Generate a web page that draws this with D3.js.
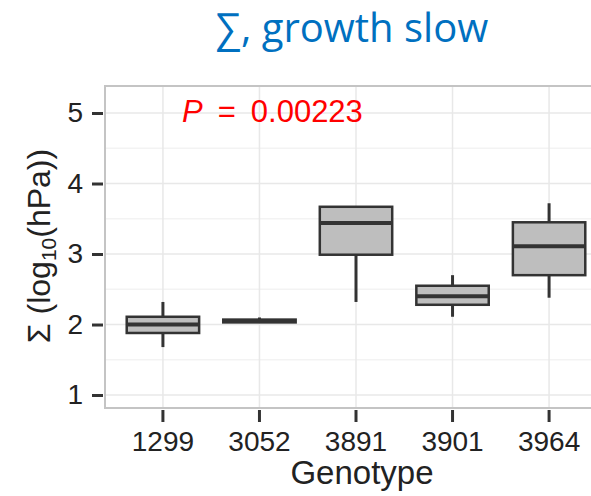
<!DOCTYPE html>
<html>
<head>
<meta charset="utf-8">
<script src="https://cdn.jsdelivr.net/npm/d3@7.9.0/dist/d3.min.js"></script>
<style>
  body { margin: 0; background: #fff; }
  svg { display: block; }
</style>
</head>
<body>
<svg id="chart" width="591" height="496"></svg>
<script>
// genotype categories and box stats
const genotypes = ["1299", "3052", "3891", "3901", "3964"];
const whiskerLow = [1.68, 2.03, 2.32, 2.11, 2.38];
const q1 = [1.88, 2.03, 2.99, 2.28, 2.70];
const median = [2.00, 2.05, 3.44, 2.40, 3.11];
const q3 = [2.11, 2.07, 3.67, 2.55, 3.45];
const whiskerHigh = [2.32, 2.10, 3.67, 2.70, 3.72];
const yTicks = [1, 2, 3, 4, 5];
const yMinor = [1.5, 2.5, 3.5, 4.5];

const svg = d3.select("#chart");

// panel runs off the right edge in the original (cropped)
const panel = { left: 105, top: 86, right: 607, bottom: 408 };

const x = d3.scaleBand()
  .domain(genotypes)
  .range([panel.left, panel.right])
  .paddingInner(0)
  .paddingOuter(0.1);

const y = d3.scaleLinear()
  .domain([0.816, 5.383])
  .range([panel.bottom, panel.top]);

const boxW = x.step() * 0.75;
const cx = (g) => x(g) + x.bandwidth() / 2;

// title
svg.append("text")
  .attr("x", 352)
  .attr("y", 42)
  .attr("text-anchor", "middle")
  .attr("font-family", "'Open Sans', sans-serif")
  .attr("font-size", 40)
  .attr("fill", "#0070C0")
  .text("∑, growth slow");

// grid
const grid = svg.append("g");
grid.selectAll("line.minor")
  .data(yMinor)
  .join("line")
  .attr("x1", panel.left).attr("x2", panel.right)
  .attr("y1", (d) => y(d)).attr("y2", (d) => y(d))
  .attr("stroke", "#f3f3f3").attr("stroke-width", 1.5);
grid.selectAll("line.major")
  .data(yTicks)
  .join("line")
  .attr("x1", panel.left).attr("x2", panel.right)
  .attr("y1", (d) => y(d)).attr("y2", (d) => y(d))
  .attr("stroke", "#e8e8e8").attr("stroke-width", 1.5);
grid.selectAll("line.vert")
  .data(genotypes)
  .join("line")
  .attr("x1", cx).attr("x2", cx)
  .attr("y1", panel.top).attr("y2", panel.bottom)
  .attr("stroke", "#e8e8e8").attr("stroke-width", 1.5);

// p-value label
const pLab = svg.append("text")
  .attr("x", 182)
  .attr("y", 122)
  .attr("font-family", "'Liberation Sans', Arial, sans-serif")
  .attr("font-size", 31)
  .attr("fill", "#ff0000");
pLab.append("tspan").attr("font-style", "italic").text("P");
pLab.append("tspan").attr("dx", 15).text("=");
pLab.append("tspan").attr("dx", 15).text("0.00223");

// boxes
const boxes = svg.append("g")
  .selectAll("g")
  .data(genotypes)
  .join("g");

boxes.append("line")
  .attr("x1", cx).attr("x2", cx)
  .attr("y1", (d, i) => y(whiskerHigh[i]))
  .attr("y2", (d, i) => y(q3[i]))
  .attr("stroke", "#333").attr("stroke-width", 3);
boxes.append("line")
  .attr("x1", cx).attr("x2", cx)
  .attr("y1", (d, i) => y(q1[i]))
  .attr("y2", (d, i) => y(whiskerLow[i]))
  .attr("stroke", "#333").attr("stroke-width", 3);
boxes.append("rect")
  .attr("x", (d) => cx(d) - boxW / 2)
  .attr("width", boxW)
  .attr("y", (d, i) => y(q3[i]))
  .attr("height", (d, i) => Math.max(0.5, y(q1[i]) - y(q3[i])))
  .attr("fill", "#bebebe")
  .attr("stroke", "#333").attr("stroke-width", 2.5);
boxes.append("line")
  .attr("x1", (d) => cx(d) - boxW / 2).attr("x2", (d) => cx(d) + boxW / 2)
  .attr("y1", (d, i) => y(median[i])).attr("y2", (d, i) => y(median[i]))
  .attr("stroke", "#333").attr("stroke-width", 4);

// panel border
svg.append("rect")
  .attr("x", panel.left).attr("y", panel.top)
  .attr("width", panel.right - panel.left)
  .attr("height", panel.bottom - panel.top)
  .attr("fill", "none")
  .attr("stroke", "#c4c4c4").attr("stroke-width", 2);

// axes
const yAxis = svg.append("g")
  .attr("transform", `translate(${panel.left - 2},0)`)
  .call(d3.axisLeft(y).tickValues(yTicks).tickSize(11).tickPadding(9).tickFormat(d3.format("d")));
const xAxis = svg.append("g")
  .attr("transform", `translate(0,${panel.bottom + 2})`)
  .call(d3.axisBottom(x).tickSize(12).tickPadding(9));

[yAxis, xAxis].forEach((ax) => {
  ax.select(".domain").remove();
  ax.selectAll(".tick line").attr("stroke", "#333").attr("stroke-width", 3);
  ax.selectAll(".tick text")
    .attr("fill", "#222")
    .attr("font-family", "'Liberation Sans', Arial, sans-serif")
    .attr("font-size", 28);
});

// axis titles
svg.append("text")
  .attr("x", 362)
  .attr("y", 484)
  .attr("text-anchor", "middle")
  .attr("font-family", "'Liberation Sans', Arial, sans-serif")
  .attr("font-size", 33)
  .attr("fill", "#222")
  .text("Genotype");

const yTitle = svg.append("text")
  .attr("transform", "translate(50,246) rotate(-90)")
  .attr("text-anchor", "middle")
  .attr("font-family", "'Liberation Sans', Arial, sans-serif")
  .attr("font-size", 32)
  .attr("fill", "#222");
yTitle.append("tspan").text("Σ (log");
yTitle.append("tspan").attr("font-size", 21).attr("dy", 6).text("10");
yTitle.append("tspan").attr("dy", -6).text("(hPa))");
</script>
</body>
</html>
